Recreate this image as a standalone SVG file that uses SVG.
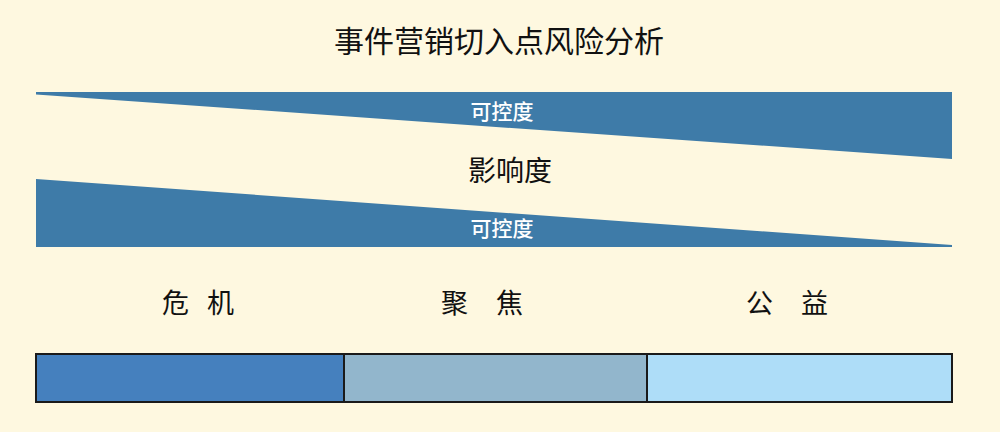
<svg xmlns="http://www.w3.org/2000/svg" width="1000" height="432" viewBox="0 0 1000 432">
<style>
text{font-family:"Noto Sans CJK SC","Noto Sans",sans-serif;}
.title{font-size:30px;fill:#111;text-anchor:middle;}
.wedge{fill:#3E7BA8;}
.wl{font-size:21px;fill:#fff;text-anchor:middle;font-weight:500;}
.mid{font-size:28px;fill:#111;text-anchor:middle;}
.cat{font-size:27px;fill:#111;letter-spacing:6px;}
.wide{letter-spacing:11px;}
.seg{stroke:#1a1a1a;stroke-width:2;}
</style>
<rect width="1000" height="432" fill="#FEF8E0"/>
<g id="title"><text class="title" x="499" y="52">事件营销切入点风险分析</text></g>
<g id="wedge-top">
<polygon class="wedge" points="36,92 952,92 952,159 36,94.5"/>
<text class="wl" x="502" y="119">可控度</text>
</g>
<g id="impact"><text class="mid" x="510" y="181">影响度</text></g>
<g id="wedge-bottom">
<polygon class="wedge" points="36,179 952,245 952,247 36,247"/>
<text class="wl" x="502" y="236">可控度</text>
</g>
<g id="labels">
<text class="cat" x="162" y="313">危 机</text>
<text class="cat wide" x="441" y="313">聚 焦</text>
<text class="cat wide" x="746" y="313">公 益</text>
</g>
<g id="bar">
<rect id="seg-crisis" class="seg" x="36" y="354" width="308" height="48" fill="#4580BE"/>
<rect id="seg-focus" class="seg" x="344" y="354" width="303" height="48" fill="#92B6CC"/>
<rect id="seg-public" class="seg" x="647" y="354" width="305" height="48" fill="#AEDDF8"/>
</g>
<g id="connectors"></g>
</svg>
